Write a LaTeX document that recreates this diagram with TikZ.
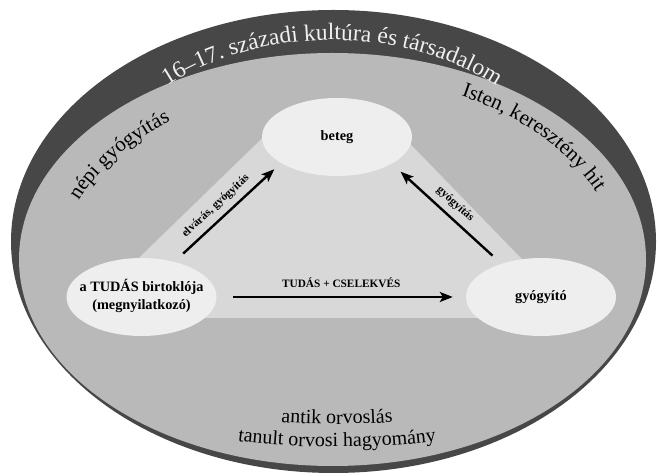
\documentclass[tikz,border=0pt]{standalone}
\usepackage{fontspec}
\setmainfont{Liberation Serif}
\usetikzlibrary{arrows.meta,shapes.geometric,decorations.text}
\definecolor{band}{HTML}{474747}
\definecolor{field}{HTML}{B9B9B9}
\definecolor{tri}{HTML}{D8D8D8}
\definecolor{ovalfill}{HTML}{EEEEEE}
\definecolor{titletext}{HTML}{F0F0F0}
\begin{document}
\begin{tikzpicture}[x=1pt,y=1pt,
  oval/.style={ellipse, fill=ovalfill, minimum width=150pt, minimum height=78pt, inner sep=0pt,
    font=\fontsize{14.3}{17.5}\selectfont\bfseries},
  arr/.style={line width=2.4pt, -{Stealth[length=13pt,width=10pt,inset=3pt]}},
  lbl/.style={font=\fontsize{11.5}{13}\selectfont\bfseries, sloped, above=3pt},
  arctext/.style={decorate, decoration={text along path, text align=center, text={#1}}}]
\useasboundingbox (0,0) rectangle (658,476);
% background shapes
\fill[band] (333.5,234.5) ellipse [x radius=322.5, y radius=231.5];
\fill[field] (332.5,216.5) ellipse [x radius=313.5, y radius=206.5];
\fill[tri] (281,356) -- (387,356) -- (579,158) -- (77,158) -- cycle;
% curved texts
\path[arctext={|\fontsize{23.5}{23.5}\selectfont\color{titletext}|16–17. századi kultúra és társadalom}]
  (332,236) ++(165:258 and 200) arc[start angle=165, end angle=15, x radius=258, y radius=200];
\path[arctext={|\fontsize{21}{21}\selectfont|népi gyógyítás}]
  (332.5,201) ++(178:276 and 190) arc[start angle=178, end angle=110, x radius=276, y radius=190];
\path[arctext={|\fontsize{21}{21}\selectfont|Isten, keresztény hit}]
  (332.5,201) ++(76:290 and 200) arc[start angle=76, end angle=8, x radius=290, y radius=200];
\path[arctext={|\fontsize{20}{20}\selectfont|antik orvoslás}]
  (337,216.5) ++(240:360 and 164.5) arc[start angle=240, end angle=300, x radius=360, y radius=164.5];
\path[arctext={|\fontsize{20}{20}\selectfont|tanult orvosi hagyomány}]
  (337,216.5) ++(235:400 and 187.5) arc[start angle=235, end angle=305, x radius=400, y radius=187.5];
% nodes
\node[oval] (patient) at (337,339) {\makebox[0pt]{beteg}};
\node[oval] (knower) at (141.5,179) {\makebox[0pt]{\begin{tabular}{@{}c@{}}a TUDÁS birtoklója\\(megnyilatkozó)\end{tabular}}};
\node[oval] (healer) at (541,179) {\makebox[0pt]{gyógyító}};
% arrows
\draw[arr, shorten <=12pt, shorten >=9pt] (knower.47) -- (patient.205)
  node[lbl, pos=0.47] {elvárás, gyógyítás};
\draw[arr, shorten <=12pt, shorten >=11.7pt] (healer.140) -- (patient.334)
  node[lbl, pos=0.5] {gyógyítás};
\draw[arr, shorten <=16.5pt, shorten >=13pt] (knower) -- (healer)
  node[midway, above=5pt, font=\fontsize{11.3}{13}\selectfont\bfseries] {TUDÁS + CSELEKVÉS};
\end{tikzpicture}
\end{document}
